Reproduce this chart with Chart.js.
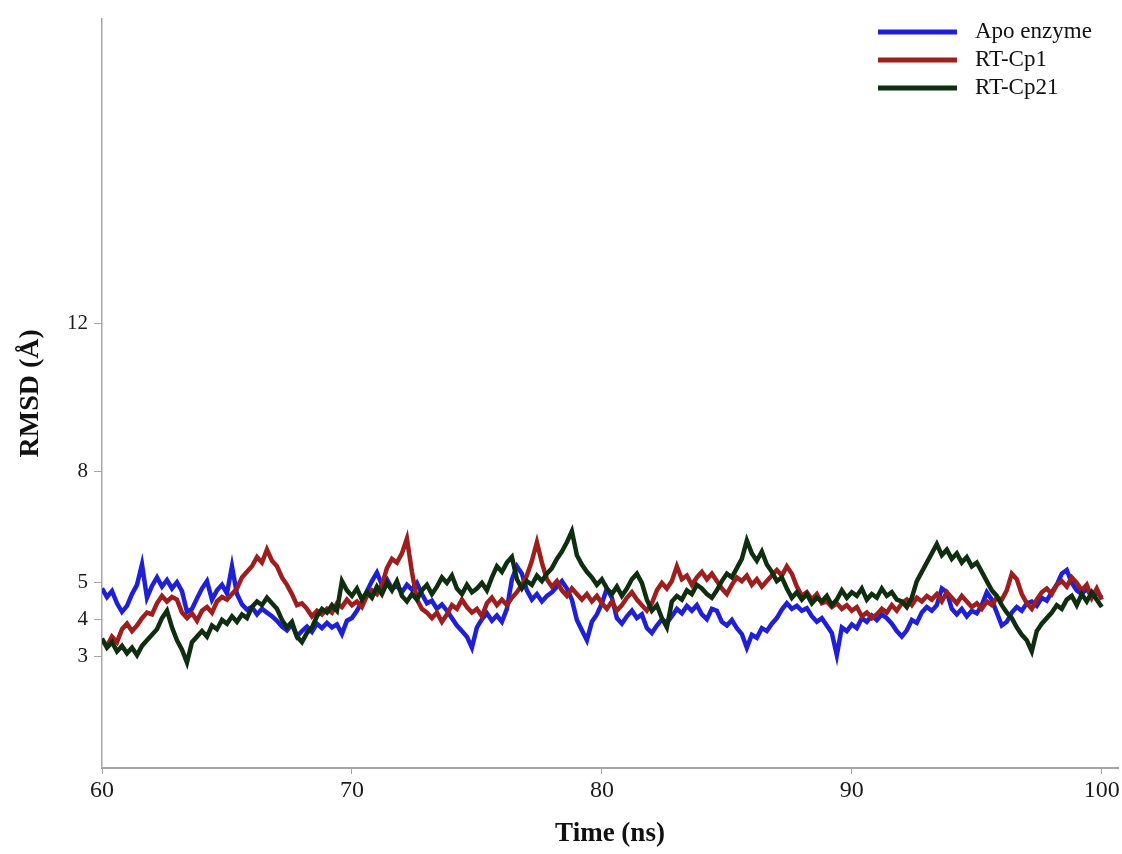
<!DOCTYPE html>
<html>
<head>
<meta charset="utf-8">
<script src="https://cdn.jsdelivr.net/npm/chart.js@4/dist/chart.umd.min.js"></script>
<style>
  body { margin: 0; background: #fff; }
  #wrap { width: 1122px; height: 854px; }
</style>
</head>
<body>
<div id="wrap"><canvas id="rmsdChart" width="1122" height="854"></canvas></div>
<script>
// sampling of the trajectory (ns)
const tStart = 60;
const tStep = 0.2;

const seriesNames = ["Apo enzyme", "RT-Cp1", "RT-Cp21"];
const seriesColors = ["#1f1fd6", "#9e1d1d", "#0f2e0f"];

// RMSD (A), one row = 2 ns
const apoRmsd = [
  4.85, 4.62, 4.78, 4.45, 4.22, 4.38, 4.70, 4.95, 5.50, 4.60,
  4.92, 5.15, 4.90, 5.08, 4.85, 5.02, 4.78, 4.22, 4.30, 4.58,
  4.85, 5.05, 4.55, 4.80, 4.95, 4.72, 5.45, 4.70, 4.42, 4.28,
  4.35, 4.15, 4.30, 4.20, 4.10, 3.98, 3.82, 3.72, 3.88, 3.55,
  3.70, 3.82, 3.68, 3.90, 3.78, 3.92, 3.80, 3.88, 3.62, 3.98,
  4.05, 4.25, 4.50, 4.78, 5.05, 5.28, 4.95, 5.10, 4.85, 4.92,
  4.75, 4.95, 4.82, 5.00, 4.70, 4.45, 4.52, 4.30, 4.42, 4.25,
  4.05, 3.85, 3.70, 3.55, 3.25, 3.80, 4.02, 4.18, 3.98, 4.12,
  3.95, 4.30, 5.10, 5.45, 5.25, 4.80, 4.55, 4.70, 4.50, 4.65,
  4.75, 4.90, 5.05, 4.85, 4.55, 4.00, 3.72, 3.45, 3.95, 4.15,
  4.45, 4.85, 4.60, 4.05, 3.90, 4.10, 4.25, 4.05, 4.15, 3.78,
  3.65, 3.85, 4.02, 3.92, 4.10, 4.30, 4.18, 4.38, 4.25, 4.40,
  4.15, 4.02, 4.30, 4.25, 3.95, 3.85, 4.00, 3.78, 3.62, 3.25,
  3.60, 3.52, 3.78, 3.70, 3.90, 4.05, 4.28, 4.45, 4.30, 4.38,
  4.25, 4.32, 4.10, 3.95, 4.05, 3.85, 3.65, 3.05, 3.80, 3.70,
  3.88, 3.78, 4.05, 3.95, 4.12, 4.00, 4.15, 4.05, 3.90, 3.70,
  3.55, 3.72, 4.00, 3.92, 4.20, 4.35, 4.25, 4.40, 4.85, 4.75,
  4.30, 4.15, 4.30, 4.10, 4.25, 4.18, 4.40, 4.75, 4.55, 4.20,
  3.85, 3.95, 4.20, 4.35, 4.25, 4.45, 4.50, 4.38, 4.60, 4.52,
  4.75, 4.95, 5.25, 5.35, 5.00, 4.80, 4.70, 4.85, 4.62, 4.75,
  4.60
];

const cp1Rmsd = [
  3.45, 3.30, 3.55, 3.40, 3.75, 3.90, 3.70, 3.85, 4.05, 4.20,
  4.15, 4.45, 4.65, 4.50, 4.62, 4.55, 4.20, 4.05, 4.18, 3.98,
  4.25, 4.35, 4.20, 4.50, 4.62, 4.55, 4.70, 4.85, 5.15, 5.30,
  5.45, 5.70, 5.55, 5.90, 5.60, 5.45, 5.15, 4.95, 4.70, 4.40,
  4.45, 4.30, 4.10, 4.25, 4.15, 4.30, 4.20, 4.45, 4.35, 4.55,
  4.40, 4.50, 4.35, 4.65, 4.80, 4.70, 4.95, 5.40, 5.65, 5.55,
  5.80, 6.20, 5.30, 4.55, 4.30, 4.20, 4.05, 4.20, 3.95, 4.15,
  4.40, 4.30, 4.55, 4.35, 4.20, 4.30, 4.10, 4.45, 4.60, 4.40,
  4.55, 4.40, 4.60, 4.75, 4.95, 5.20, 5.60, 6.10, 5.55, 5.10,
  4.90, 5.05, 4.80, 4.65, 4.85, 4.70, 4.55, 4.70, 4.50, 4.65,
  4.45, 4.30, 4.50, 4.25, 4.40, 4.60, 4.75, 4.55, 4.40, 4.25,
  4.45, 4.80, 5.00, 4.85, 5.05, 5.45, 5.10, 5.20, 4.95, 5.15,
  5.30, 5.10, 5.25, 5.05, 4.85, 4.70, 4.95, 5.15, 5.05, 5.20,
  4.95, 5.10, 4.90, 5.05, 5.20, 5.35, 5.20, 5.45, 5.25, 4.90,
  4.65, 4.75, 4.55, 4.70, 4.45, 4.50, 4.35, 4.45, 4.30, 4.40,
  4.25, 4.35, 4.10, 4.20, 4.05, 4.15, 4.30, 4.20, 4.40, 4.25,
  4.45, 4.55, 4.40, 4.60, 4.50, 4.65, 4.55, 4.70, 4.50, 4.75,
  4.60, 4.45, 4.65, 4.50, 4.35, 4.45, 4.30, 4.50, 4.40, 4.60,
  4.55, 4.80, 5.25, 5.10, 4.70, 4.45, 4.30, 4.55, 4.75, 4.85,
  4.70, 4.95, 5.05, 4.90, 5.15, 5.00, 4.80, 4.95, 4.60, 4.85,
  4.55
];

const cp21Rmsd = [
  3.50, 3.25, 3.40, 3.15, 3.30, 3.10, 3.25, 3.05, 3.30, 3.45,
  3.60, 3.75, 4.05, 4.25, 3.80, 3.45, 3.20, 2.85, 3.40, 3.55,
  3.70, 3.55, 3.85, 3.75, 4.00, 3.90, 4.10, 3.95, 4.15, 4.05,
  4.35, 4.50, 4.40, 4.60, 4.45, 4.30, 4.00, 3.80, 3.95, 3.55,
  3.40, 3.65, 3.80, 4.10, 4.30, 4.20, 4.40, 4.25, 5.05, 4.80,
  4.65, 4.85, 4.55, 4.75, 4.60, 4.90, 4.70, 5.00, 4.80, 5.05,
  4.65, 4.50, 4.70, 4.55, 4.80, 4.95, 4.70, 4.90, 5.15, 5.00,
  5.20, 4.85, 4.70, 4.95, 4.75, 4.85, 5.00, 4.80, 5.15, 5.45,
  5.30, 5.55, 5.70, 5.10, 4.85, 5.05, 4.95, 5.20, 5.05, 5.25,
  5.40, 5.65, 5.85, 6.10, 6.40, 5.75, 5.50, 5.30, 5.15, 4.95,
  5.10, 4.85, 4.70, 4.90, 4.65, 4.85, 5.10, 5.25, 5.00, 4.55,
  4.25, 4.40, 4.05, 3.80, 4.50, 4.65, 4.55, 4.80, 4.70, 4.95,
  4.85, 4.70, 4.60, 4.80, 5.05, 5.25, 5.15, 5.40, 5.65, 6.15,
  5.80, 5.60, 5.85, 5.50, 5.30, 5.05, 5.15, 4.85, 4.60, 4.75,
  4.55, 4.70, 4.45, 4.60, 4.50, 4.65, 4.40, 4.55, 4.80, 4.60,
  4.75, 4.65, 4.85, 4.55, 4.70, 4.60, 4.85, 4.65, 4.75, 4.55,
  4.50, 4.35, 4.60, 5.05, 5.30, 5.55, 5.80, 6.05, 5.75, 5.90,
  5.65, 5.80, 5.55, 5.70, 5.45, 5.55, 5.30, 5.05, 4.80, 4.65,
  4.40, 4.20, 4.05, 3.80, 3.60, 3.45, 3.15, 3.70, 3.90, 4.05,
  4.20, 4.40, 4.30, 4.55, 4.65, 4.40, 4.70, 4.50, 4.75, 4.55,
  4.35
];

const xTicks = [60, 70, 80, 90, 100];
const yTicks = [3, 4, 5, 8, 12];

function toPoints(arr) {
  return arr.map((v, i) => ({ x: tStart + i * tStep, y: v }));
}

const serif = "'Liberation Serif', 'Times New Roman', serif";

// legend drawn inside the plot, top right, like the original figure
const lineLegend = {
  id: "lineLegend",
  afterDraw(chart) {
    const ctx = chart.ctx;
    ctx.save();
    ctx.font = "23px " + serif;
    ctx.textBaseline = "middle";
    chart.data.datasets.forEach((ds, i) => {
      const y = 32 + i * 28;
      ctx.fillStyle = ds.borderColor;
      ctx.fillRect(878, y - 2.5, 79, 5);
      ctx.fillStyle = "#111";
      ctx.fillText(ds.label, 975, y);
    });
    ctx.restore();
  }
};

new Chart(document.getElementById("rmsdChart"), {
  type: "line",
  data: {
    datasets: [
      { label: seriesNames[0], data: toPoints(apoRmsd), borderColor: seriesColors[0], order: 3 },
      { label: seriesNames[1], data: toPoints(cp1Rmsd), borderColor: seriesColors[1], order: 2 },
      { label: seriesNames[2], data: toPoints(cp21Rmsd), borderColor: seriesColors[2], order: 1 }
    ]
  },
  options: {
    responsive: false,
    animation: false,
    layout: { padding: { left: 0, right: 4, top: 10, bottom: 0 } },
    elements: {
      line: { borderWidth: 4.5, tension: 0, borderJoinStyle: "miter" },
      point: { radius: 0 }
    },
    plugins: {
      legend: { display: false },
      tooltip: { enabled: false }
    },
    scales: {
      x: {
        type: "linear",
        min: 60,
        max: 100.65,
        afterBuildTicks: (s) => { s.ticks = xTicks.map(v => ({ value: v })); },
        afterFit: (s) => { s.height = 86; },
        border: { display: true, color: "#a5a5a5", width: 2 },
        grid: { drawOnChartArea: false, color: "#a5a5a5", tickLength: 6 },
        ticks: { color: "#1a1a1a", font: { family: serif, size: 24 }, padding: 2, maxRotation: 0 },
        title: { display: true, text: "Time (ns)", color: "#111", font: { family: serif, size: 27, weight: "bold" }, padding: { top: 0, bottom: 4 } }
      },
      y: {
        min: 0,
        max: 20.25,
        afterBuildTicks: (s) => { s.ticks = yTicks.map(v => ({ value: v })); },
        afterFit: (s) => { s.width = 102; },
        border: { display: true, color: "#a5a5a5", width: 1.5 },
        grid: { drawOnChartArea: false, color: "#a5a5a5", tickLength: 8 },
        ticks: { color: "#1a1a1a", font: { family: serif, size: 21 }, padding: 6 },
        title: { display: true, text: "RMSD (Å)", color: "#111", font: { family: serif, size: 28, weight: "bold" }, padding: { top: 14, bottom: 0 } }
      }
    }
  },
  plugins: [lineLegend]
});
</script>
</body>
</html>
